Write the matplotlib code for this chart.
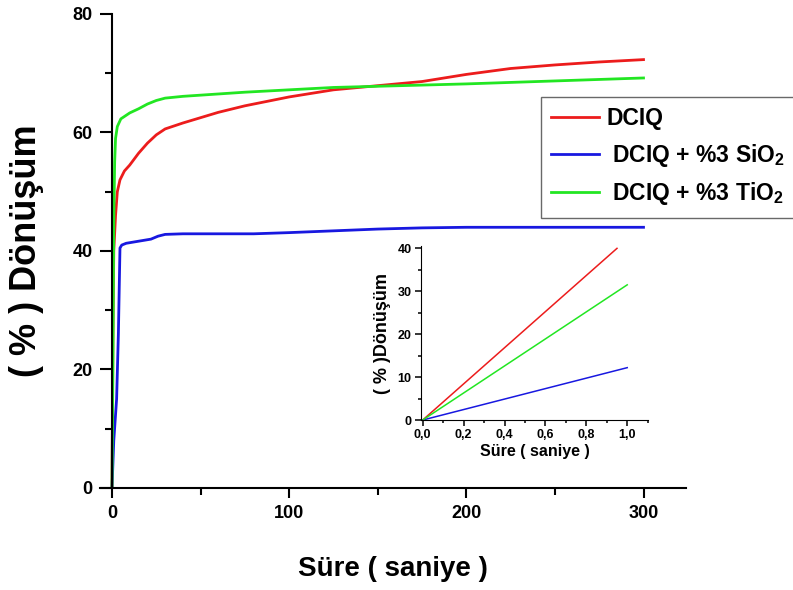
import numpy as np
import matplotlib
matplotlib.use("Agg")
import matplotlib.pyplot as plt
from matplotlib.ticker import MultipleLocator, FuncFormatter

plt.rcParams['font.family'] = ['Liberation Sans', 'DejaVu Sans']
plt.rcParams['font.weight'] = 'bold'
plt.rcParams['mathtext.fontset'] = 'custom'
plt.rcParams['mathtext.rm'] = 'Liberation Sans:bold'
plt.rcParams['mathtext.bf'] = 'Liberation Sans:bold'

# main curves: time (s) vs conversion (%)
t_dciq = [0, 0.5, 1, 2, 3, 4.5, 7, 10, 15, 20, 25, 30, 40, 50, 60, 75, 100,
          125, 150, 175, 200, 225, 250, 275, 300]
y_dciq = [0, 25, 40, 46, 50, 52, 53.5, 54.5, 56.5, 58.2, 59.6, 60.6, 61.6, 62.5,
          63.4, 64.5, 66.0, 67.2, 67.9, 68.6, 69.8, 70.8, 71.4, 71.9, 72.3]

t_sio2 = [0, 1, 2.6, 3.6, 4.5, 5.5, 8, 12, 18, 22, 26, 30, 40, 60, 80, 100,
          125, 150, 175, 200, 250, 300]
y_sio2 = [0, 8, 15, 26, 40.5, 41.0, 41.3, 41.5, 41.8, 42.0, 42.5, 42.8, 42.9,
          42.9, 42.9, 43.1, 43.4, 43.7, 43.9, 44.0, 44.0, 44.0]

t_tio2 = [0, 0.5, 1, 1.5, 2, 3, 5, 10, 15, 20, 25, 30, 40, 50, 75, 100, 125,
          150, 175, 200, 250, 300]
y_tio2 = [0, 20, 45, 55, 59, 61, 62.3, 63.3, 64.0, 64.8, 65.4, 65.8, 66.1, 66.3,
          66.8, 67.2, 67.6, 67.8, 68.0, 68.2, 68.7, 69.2]

# inset: first second
ti_dciq, yi_dciq = [0, 0.95], [0, 40]
ti_sio2, yi_sio2 = [0, 1.0], [0, 12.2]
ti_tio2, yi_tio2 = [0, 1.0], [0, 31.5]

labels = ['DCIQ', ' DCIQ + %3 SiO$_\\mathregular{2}$', ' DCIQ + %3 TiO$_\\mathregular{2}$']
RED, BLUE, GREEN = '#ec1c1c', '#1818e0', '#22e622'

fig = plt.figure(figsize=(7.93, 5.90), dpi=100)

ax = fig.add_axes([0.1256, 0.1729, 0.7395, 0.8034])
l1, = ax.plot(t_dciq, y_dciq, color=RED, lw=2.0)
l2, = ax.plot(t_sio2, y_sio2, color=BLUE, lw=2.0)
l3, = ax.plot(t_tio2, y_tio2, color=GREEN, lw=2.0)
ax.set_xlim(-7, 324)
ax.set_ylim(0, 80)
for s in ['top', 'right']:
    ax.spines[s].set_visible(False)
for s in ['left', 'bottom']:
    ax.spines[s].set_linewidth(1.5)
ax.spines['left'].set_position(('data', 0))
ax.xaxis.set_major_locator(MultipleLocator(100))
ax.xaxis.set_minor_locator(MultipleLocator(50))
ax.yaxis.set_major_locator(MultipleLocator(20))
ax.yaxis.set_minor_locator(MultipleLocator(10))
ax.tick_params(axis='y', which='major', direction='out', length=9, width=1.5,
               labelsize=13, pad=5)
ax.tick_params(axis='y', which='minor', direction='out', length=5, width=1.5)
ax.tick_params(axis='x', which='major', direction='out', length=7.5, width=1.5,
               labelsize=13, pad=5)
ax.tick_params(axis='x', which='minor', direction='out', length=5, width=1.5)
ax.set_xlabel('Süre ( saniye )', fontsize=20, fontweight='bold', labelpad=24)
ax.set_ylabel('( % ) Dönüşüm', fontsize=26, fontweight='bold')
ax.yaxis.set_label_coords(-0.095, 0.5)

leg = fig.legend([l1, l2, l3], labels, loc='upper left',
                 bbox_to_anchor=(541 / 793, 1 - 97 / 590), borderaxespad=0,
                 frameon=True, fancybox=False, handlelength=2.1,
                 handletextpad=0.3, labelspacing=0.5, borderpad=0.45,
                 prop={'weight': 'bold', 'size': 16.5})
leg.get_frame().set_edgecolor('#444444')
leg.get_frame().set_linewidth(1.0)

# inset
axi = fig.add_axes([0.5305, 0.2881, 0.287, 0.2946])
axi.plot(ti_dciq, yi_dciq, color=RED, lw=1.1)
axi.plot(ti_sio2, yi_sio2, color=BLUE, lw=1.1)
axi.plot(ti_tio2, yi_tio2, color=GREEN, lw=1.1)
axi.set_xlim(-0.01, 1.103)
axi.set_ylim(0, 40.5)
for s in ['top', 'right']:
    axi.spines[s].set_visible(False)
axi.xaxis.set_major_locator(MultipleLocator(0.2))
axi.xaxis.set_minor_locator(MultipleLocator(0.1))
axi.yaxis.set_major_locator(MultipleLocator(10))
axi.yaxis.set_minor_locator(MultipleLocator(5))
axi.xaxis.set_major_formatter(FuncFormatter(lambda v, p: f"{v:.1f}".replace('.', ',')))
axi.tick_params(which='major', direction='out', length=4.5, width=1.1,
                labelsize=9, pad=2)
axi.tick_params(which='minor', direction='out', length=2.5, width=1.1)
axi.set_xlabel('Süre ( saniye )', fontsize=11.5, fontweight='bold', labelpad=2)
axi.set_ylabel('( % )Dönüşüm', fontsize=13, fontweight='bold', labelpad=5)

fig.savefig('out.png', dpi=100)
